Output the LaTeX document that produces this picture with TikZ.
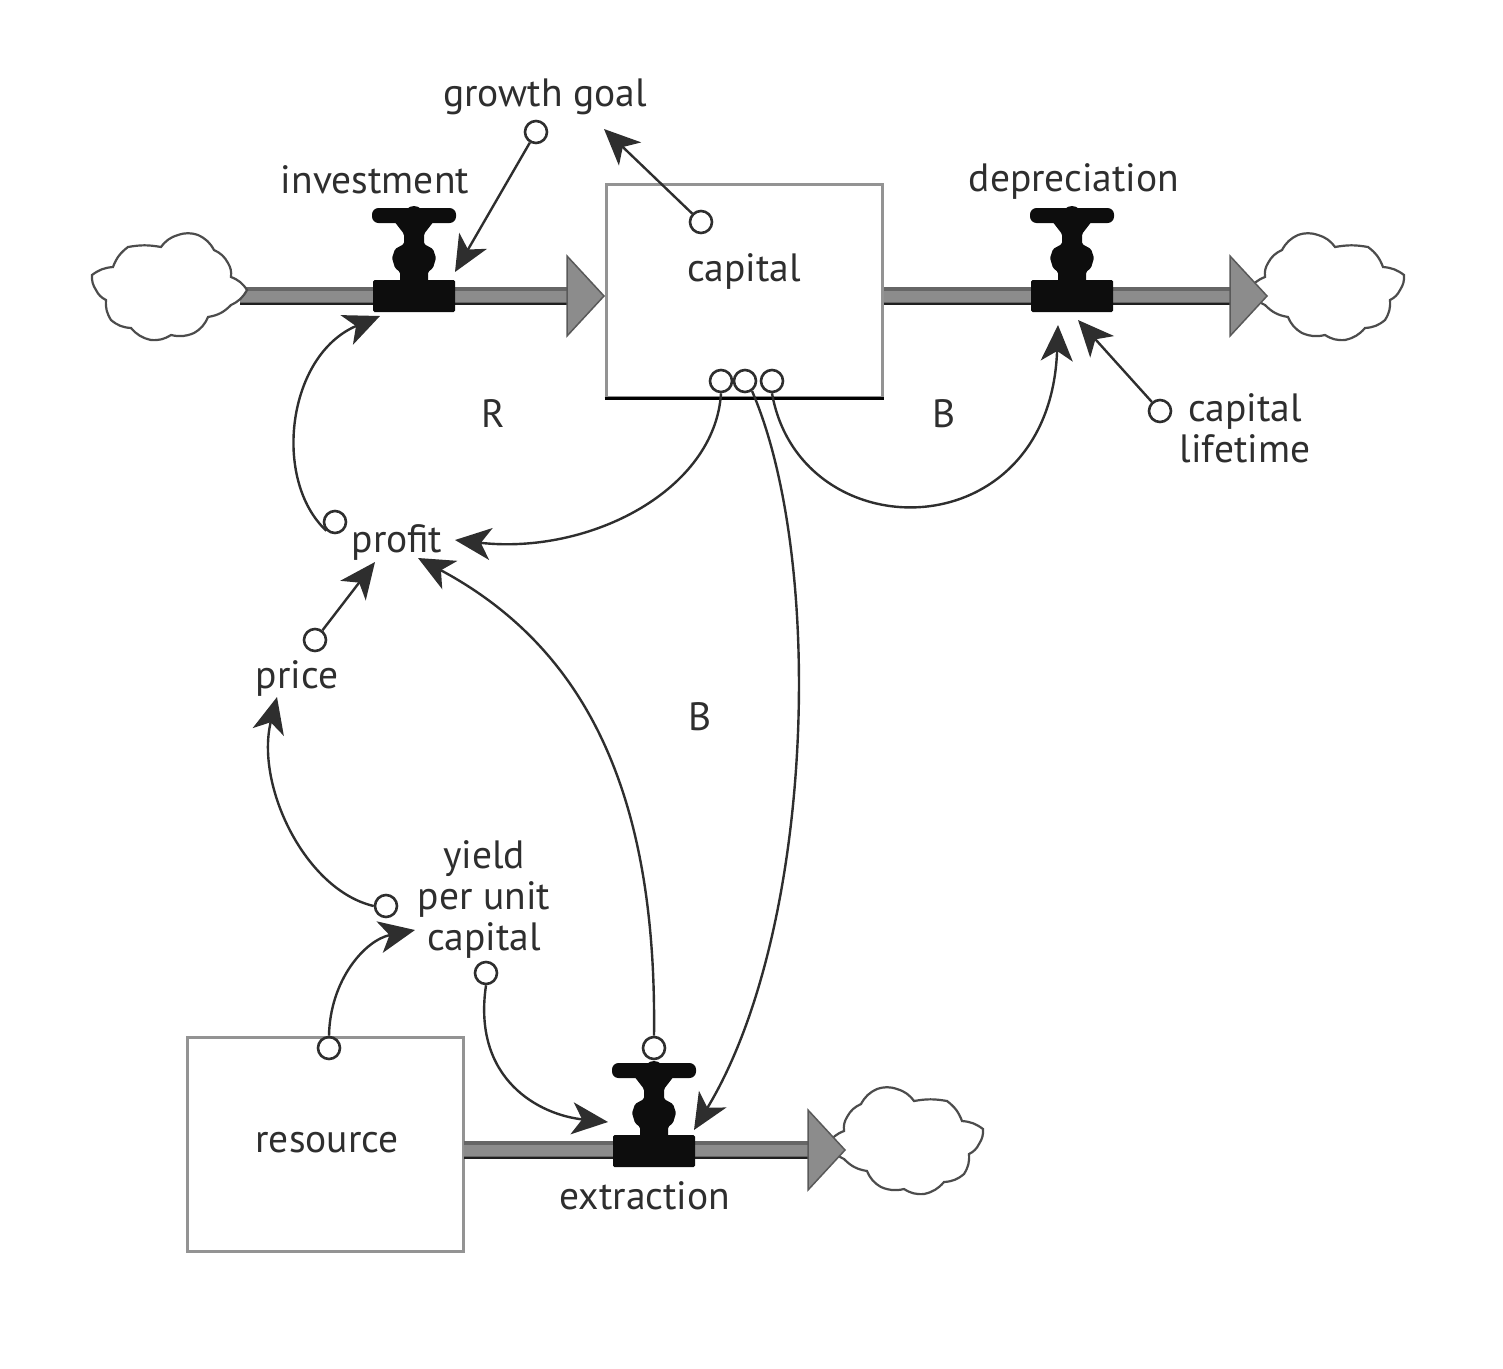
\documentclass[tikz,border=0pt]{standalone}
\usepackage{fontspec}
\setmainfont{PT Sans}
\usetikzlibrary{arrows.meta}
\definecolor{ink}{HTML}{2E2E2E}
\tikzset{
  x=1pt,y=-1pt,
  lbl/.style={font=\fontsize{39.5}{41}\selectfont,text=ink,inner sep=0pt,align=center},
  port/.style={circle,draw=ink,line width=2.6pt,minimum size=22pt,inner sep=0pt},
  conn/.style={draw=ink,line width=2.4pt,-{Stealth[length=36pt,width=32pt,inset=10pt]},shorten <=0pt},
  stock/.style={draw=gray!85,line width=3pt,fill=white},
  pipeout/.style={line width=18pt,draw=black!60},
  pipein/.style={line width=11pt,draw=black!45},
  pipeedge/.style={line width=2.5pt,draw=black!88},
  pics/cloudshape/.style={code={
    \draw[draw=black!70,line width=2.2pt,fill=white,scale=1.0]
      (-79,-12) to[bend left=16] (-58,-20) to[bend left=16] (-43,-40) to[bend left=10] (-10,-40)
      to[bend left=18] (7,-52) to[bend left=18] (27,-52) to[bend left=18] (43,-37)
      to[bend left=18] (57,-24) to[bend left=18] (60,-10) to[bend left=18] (76,3)
      to[bend left=18] (60,18) to[bend left=18] (37,30) to[bend left=18] (23,46)
      to[bend left=18] (0,48) to[bend left=18] (-20,53) to[bend left=18] (-40,41)
      to[bend left=18] (-60,33) to[bend left=18] (-65,13) to[bend left=18] (-75,3)
      to[bend left=18] cycle;}},
  pics/headshape/.style={code={
    \draw[fill=black!45,draw=black!65,line width=1.5pt,line join=miter]
      (0,-40) -- (37,0) -- (0,40) -- cycle;}},
  pics/valveshape/.style={code={
    \fill[black!95,rounded corners=1.5pt] (-41,-16) rectangle (41,16);
    \fill[black!95,rounded corners=6.5pt] (-42,-88) rectangle (42,-73);
    \fill[black!95] (0,-80) circle (10pt);
    \fill[black!95,rounded corners=1.5pt]
      (-20,-75) -- (20,-75) -- (10,-62) -- (10,-52) -- (19,-47) -- (22,-38)
      -- (19,-28) -- (14,-24) -- (14,-14) -- (-14,-14) -- (-14,-24) -- (-19,-28)
      -- (-22,-38) -- (-19,-47) -- (-10,-52) -- (-10,-62) -- cycle;}},
}
\begin{document}
\begin{tikzpicture}
\useasboundingbox (0,0) rectangle (1503,1368);
% stocks
\node[stock,minimum width=276pt,minimum height=213pt,inner sep=0pt] (capbox) at (744,290.5) {};
\draw[draw=black,line width=2.6pt] (capbox.south west) -- (capbox.south east);
\node[stock,minimum width=276pt,minimum height=214pt,inner sep=0pt] (resbox) at (325,1144) {};
% pipe ends
\coordinate (pis) at (240,296); \coordinate (pie) at (570,296);
\coordinate (pds) at (884,296); \coordinate (pde) at (1233,296);
\coordinate (pes) at (464,1150); \coordinate (pee) at (811,1150);
\foreach \a/\b in {pis/pie,pds/pde,pes/pee}{
  \draw[pipeout] (\a) -- (\b);
  \draw[pipein] ([yshift=-0.5pt]\a) -- ([yshift=-0.5pt]\b);
  \draw[pipeedge] ([yshift=-8pt]\a) -- ([yshift=-8pt]\b);
}
% clouds
\pic at (171,287) {cloudshape};
\pic[xscale=-1] at (1325,287) {cloudshape};
\pic[xscale=-1] at (904,1141) {cloudshape};
% heads
\pic at (567,296) {headshape};
\pic at (1230,296) {headshape};
\pic at (808,1150) {headshape};
% valves
\pic at (414,296) {valveshape};
\pic at (1072,296) {valveshape};
\pic at (654,1151) {valveshape};
% labels
\node[lbl] (growth) at (545,97) {growth goal};
\node[lbl] (invest) at (375,180) {investment};
\node[lbl] (capital) at (744,271) {capital};
\node[lbl] (deprec) at (1074,181) {depreciation};
\node[lbl] (lifetime) at (1245,428) {capital\\lifetime};
\node[lbl] (loopR) at (493,414) {R};
\node[lbl] (loopB) at (944,414) {B};
\node[lbl] (loopBB) at (700,717) {B};
\node[lbl] (profit) at (397,542) {profit};
\node[lbl] (price) at (297,678) {price};
\node[lbl] (yield) at (484,899) {yield\\per unit\\capital};
\node[lbl] (resource) at (327,1143) {resource};
\node[lbl] (extract) at (645,1196) {extraction};
% ports
\node[port] (pgrowth) at (536,132) {};
\node[port] (pcaptop) at (701,222) {};
\node[port] (pcapa) at (721,381) {};
\node[port] (pcapb) at (745,381) {};
\node[port] (pcapc) at (772,381) {};
\node[port] (plife) at (1160,411) {};
\node[port] (pprofit) at (335,522) {};
\node[port] (pprice) at (315,640) {};
\node[port] (pyielda) at (386,906) {};
\node[port] (pyieldb) at (486,973) {};
\node[port] (pres) at (329,1048) {};
\node[port] (pext) at (654,1048) {};
% arrow targets
\coordinate (tIa) at (455,272);
\coordinate (tIb) at (380,316);
\coordinate (tG) at (604,129);
\coordinate (tDa) at (1058,325);
\coordinate (tDb) at (1078,320);
\coordinate (tPa) at (455,540);
\coordinate (tPb) at (418,558);
\coordinate (tPc) at (375,562);
\coordinate (tPr) at (277,697);
\coordinate (tY) at (415,930);
\coordinate (tEa) at (608,1122);
\coordinate (tEb) at (694,1130);
% connectors
\draw[conn] (pgrowth) -- (tIa);
\draw[conn] (pcaptop) -- (tG);
\draw[conn] (plife) -- (tDb);
\draw[conn] (pprice) -- (tPc);
\draw[conn] (pprofit.south west) .. controls (272,480) and (287,355) .. (tIb);
\draw[conn] (pcapa.south) .. controls (715,490) and (590,555) .. (tPa);
\draw[conn] (pcapc.south) .. controls (800,552) and (1050,552) .. (tDa);
\draw[conn] (pcapb.-55) .. controls (825,560) and (815,930) .. (tEb);
\draw[conn] (pext.north) .. controls (657,800) and (590,650) .. (tPb);
\draw[conn] (pyielda.west) .. controls (305,890) and (255,785) .. (tPr);
\draw[conn] (pres.north) .. controls (330,980) and (365,940) .. (tY);
\draw[conn] (pyieldb.south) .. controls (472,1080) and (540,1115) .. (tEa);
\end{tikzpicture}
\end{document}
